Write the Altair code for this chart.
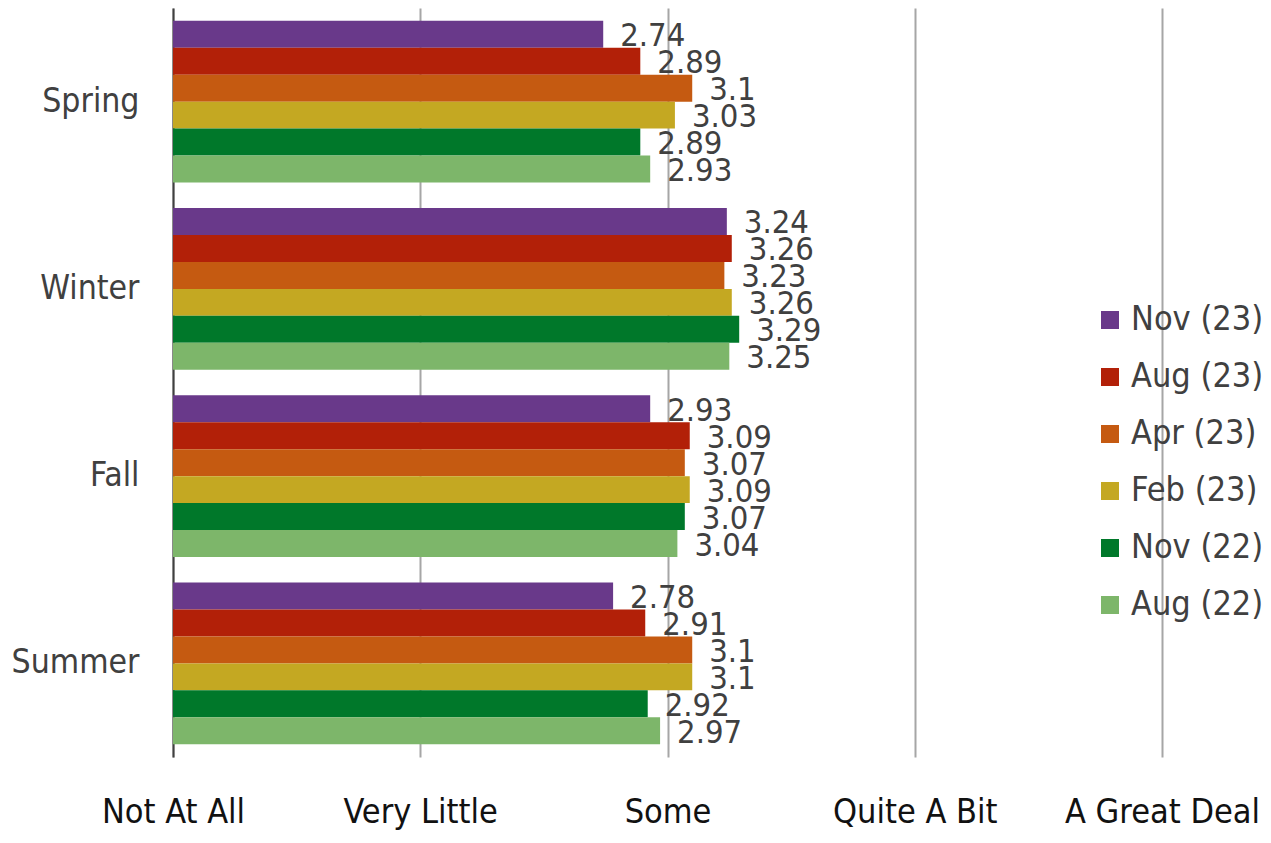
import altair as alt
import pandas as pd

seasons = ["Spring", "Winter", "Fall", "Summer"]
series = ["Nov (23)", "Aug (23)", "Apr (23)", "Feb (23)", "Nov (22)", "Aug (22)"]
colors = ["#69398A", "#B22008", "#C55A11", "#C4A822", "#00782A", "#7DB66A"]

spring = [2.74, 2.89, 3.1, 3.03, 2.89, 2.93]
winter = [3.24, 3.26, 3.23, 3.26, 3.29, 3.25]
fall = [2.93, 3.09, 3.07, 3.09, 3.07, 3.04]
summer = [2.78, 2.91, 3.1, 3.1, 2.92, 2.97]

tick_values = [1, 2, 3, 4, 5]
tick_labels = ["Not At All", "Very Little", "Some", "Quite A Bit", "A Great Deal"]

rows = []
for season, vals in zip(seasons, [spring, winter, fall, summer]):
    for s, v in zip(series, vals):
        rows.append({"season": season, "series": s, "value": v, "label": f"{v:g}"})
df = pd.DataFrame(rows)

FONT = "DejaVu Sans Condensed, Liberation Sans Narrow, DejaVu Sans, sans-serif"

label_expr = "{" + ",".join(f"'{v}':'{l}'" for v, l in zip(tick_values, tick_labels)) + "}[datum.value]"

x = alt.X(
    "value:Q",
    scale=alt.Scale(domain=[1, 5], zero=False, nice=False),
    axis=alt.Axis(
        values=tick_values,
        labelExpr=label_expr,
        title=None,
        grid=True,
        gridColor="#A6A6A6",
        gridWidth=2,
        domain=False,
        ticks=False,
        labelFontSize=34,
        labelFont=FONT,
        labelColor="#111111",
        labelPadding=38,
        labelLimit=400,
        labelFlush=False,
        labelOverlap=False,
    ),
)
y = alt.Y(
    "season:N",
    sort=seasons,
    scale=alt.Scale(paddingInner=0.135, paddingOuter=0.0675),
    axis=alt.Axis(
        title=None,
        ticks=False,
        domain=True,
        domainColor="#404040",
        domainWidth=2,
        labelFontSize=33.5,
        labelFont=FONT,
        labelColor="#404040",
        labelPadding=34,
        labelLimit=300,
    ),
)
yoff = alt.YOffset("series:N", sort=series, scale=alt.Scale(paddingInner=0, paddingOuter=0))

bars = alt.Chart(df).mark_bar().encode(
    x=x,
    x2=alt.datum(1),
    y=y,
    yOffset=yoff,
    color=alt.Color(
        "series:N",
        sort=series,
        scale=alt.Scale(domain=series, range=colors),
        legend=alt.Legend(
            title=None,
            orient="none",
            legendX=920,
            legendY=295,
            symbolType="square",
            symbolSize=324,
            symbolStrokeWidth=0,
            labelFontSize=34,
            labelFont=FONT,
            labelColor="#404040",
            labelOffset=4,
            labelLimit=300,
            rowPadding=23,
        ),
    ),
)

labels = alt.Chart(df).mark_text(
    align="left", baseline="middle", dx=17, dy=2, fontSize=32.5, font=FONT, color="#404040"
).encode(
    x=alt.X("value:Q"),
    y=alt.Y("season:N", sort=seasons),
    yOffset=yoff,
    text="label:N",
)

chart = (
    alt.layer(bars, labels)
    .properties(
        width=989,
        height=749,
        autosize=alt.AutoSizeParams(type="none"),
        padding={"left": 165, "top": 0, "right": 100, "bottom": 78},
    )
    .configure_view(stroke=None)
)

chart.save("out.html", embed_options={"renderer": "svg", "actions": False})
